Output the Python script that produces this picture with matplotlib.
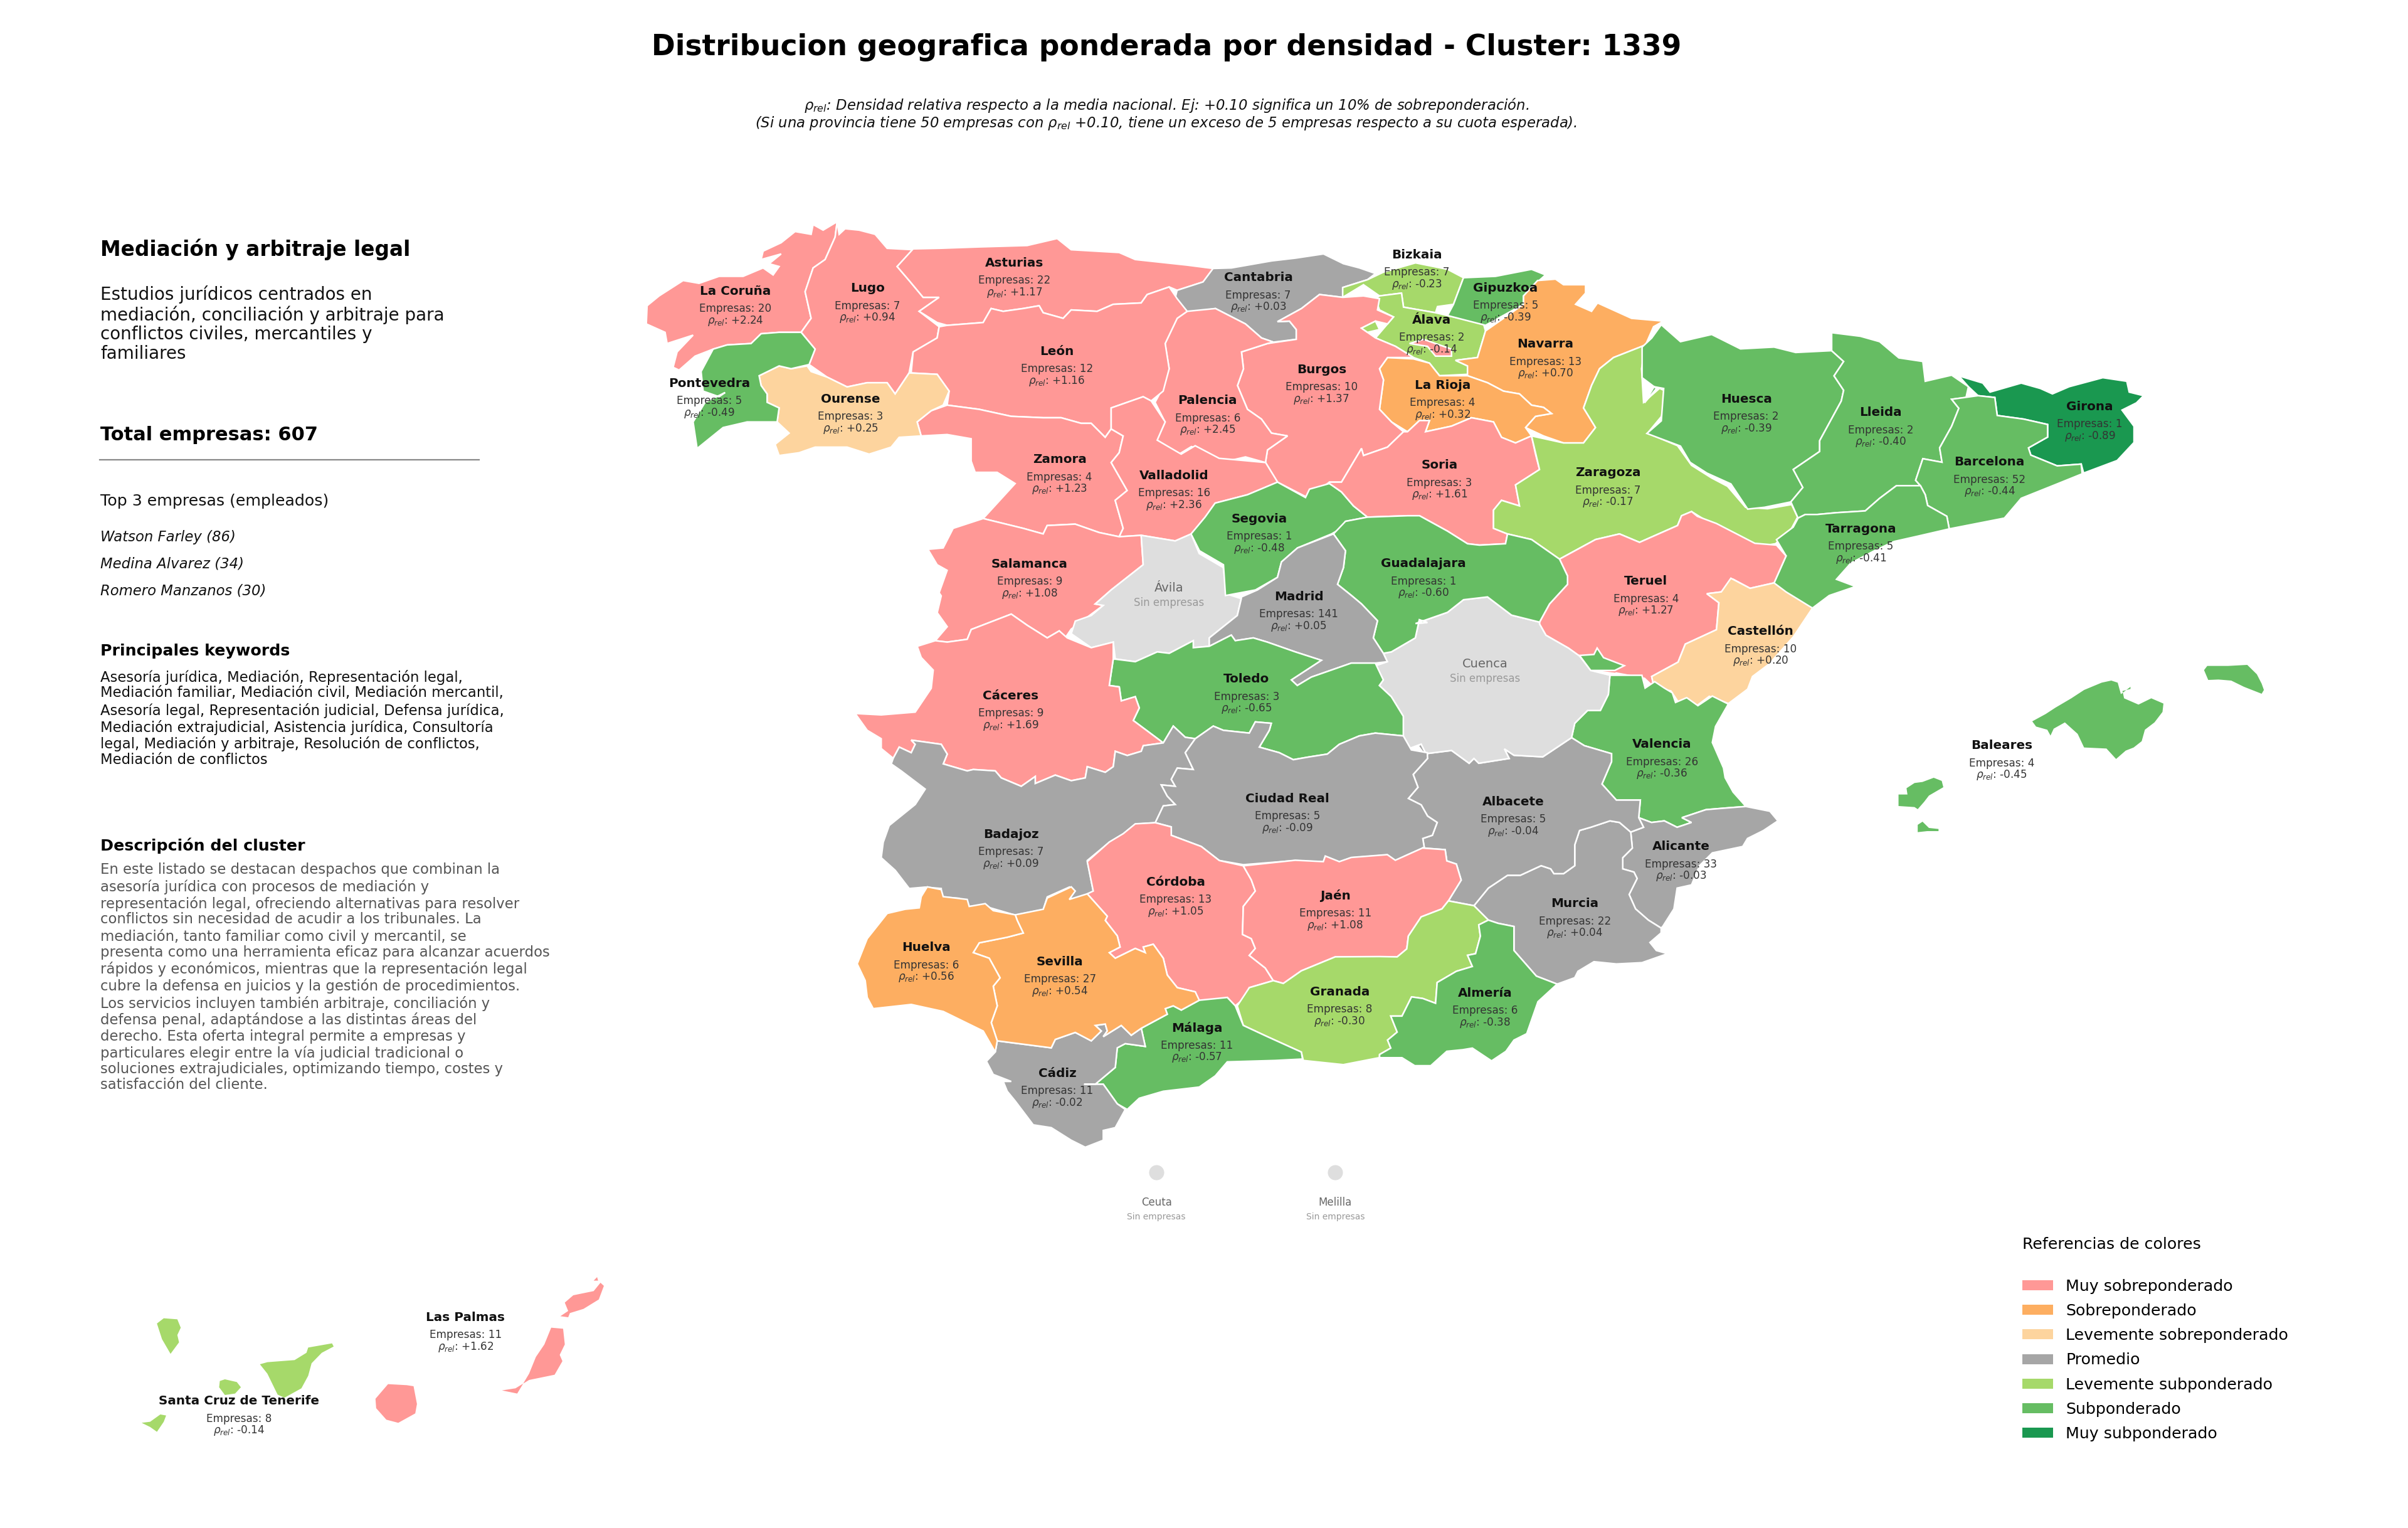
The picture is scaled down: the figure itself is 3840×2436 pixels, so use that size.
import matplotlib
matplotlib.use("Agg")
import matplotlib.pyplot as plt
from matplotlib.patches import Patch

# map sheets the outlines were digitised on: x0, y0, x scale, y scale (to image pixels)
SHEETS = {
    "A": (1000, 320, 0.638, 0.4464),
    "B": (1900, 320, 0.638, 0.4464),
    "C": (2500, 450, 0.7653, 0.574),
    "D": (1300, 950, 0.638, 0.4464),
    "E": (1300, 1300, 0.638, 0.4464),
    "F": (2200, 1000, 0.5102, 0.5102),
    "G": (150, 2000, 0.542, 0.3333),
    "H": (2900, 1000, 0.5102, 0.3333),
}

provinces = ["La Coruña", "Lugo", "Asturias", "Cantabria", "Bizkaia", "Gipuzkoa", "Álava", "Navarra",
             "La Rioja", "Burgos", "Palencia", "León", "Zamora", "Valladolid", "Salamanca", "Segovia",
             "Soria", "Zaragoza", "Huesca", "Lleida", "Girona", "Barcelona", "Tarragona", "Teruel",
             "Castellón", "Valencia", "Alicante", "Murcia", "Albacete", "Guadalajara", "Madrid", "Toledo",
             "Cáceres", "Badajoz", "Ciudad Real", "Córdoba", "Jaén", "Granada", "Almería", "Málaga",
             "Cádiz", "Sevilla", "Huelva", "Ourense", "Pontevedra", "Baleares", "Las Palmas",
             "Santa Cruz de Tenerife"]
empresas = [20, 7, 22, 7, 7, 5, 2, 13,
            4, 10, 6, 12, 4, 16, 9, 1,
            3, 7, 2, 2, 1, 52, 5, 4,
            10, 26, 33, 22, 5, 1, 141, 3,
            9, 7, 5, 13, 11, 8, 6, 11,
            11, 27, 6, 3, 5, 4, 11, 8]
rho = [2.24, 0.94, 1.17, 0.03, -0.23, -0.39, -0.14, 0.70,
       0.32, 1.37, 2.45, 1.16, 1.23, 2.36, 1.08, -0.48,
       1.61, -0.17, -0.39, -0.40, -0.89, -0.44, -0.41, 1.27,
       0.20, -0.36, -0.03, 0.04, -0.04, -0.60, 0.05, -0.65,
       1.69, 0.09, -0.09, 1.05, 1.08, -0.30, -0.38, -0.57,
       -0.02, 0.54, 0.56, 0.25, -0.49, -0.45, 1.62, -0.14]
sin_empresas = ["Ávila", "Cuenca"]

legend_labels = ["Muy sobreponderado", "Sobreponderado", "Levemente sobreponderado", "Promedio",
                 "Levemente subponderado", "Subponderado", "Muy subponderado"]
legend_colors = ["#ff9896", "#fdae61", "#fdd49e", "#a6a6a6", "#a6d96a", "#66bd63", "#1a9850"]
NO_DATA = "#dedede"

title = "Distribucion geografica ponderada por densidad - Cluster: 1339"
subtitle = [r"$\rho_{rel}$: Densidad relativa respecto a la media nacional. Ej: +0.10 significa un 10% de sobreponderación.",
            r"(Si una provincia tiene 50 empresas con $\rho_{rel}$ +0.10, tiene un exceso de 5 empresas respecto a su cuota esperada)."]
cluster_name = "Mediación y arbitraje legal"
cluster_sub = ["Estudios jurídicos centrados en", "mediación, conciliación y arbitraje para",
               "conflictos civiles, mercantiles y", "familiares"]
total_text = "Total empresas: 607"
top3 = ["Watson Farley (86)", "Medina Alvarez (34)", "Romero Manzanos (30)"]
keywords = ["Asesoría jurídica, Mediación, Representación legal,",
            "Mediación familiar, Mediación civil, Mediación mercantil,",
            "Asesoría legal, Representación judicial, Defensa jurídica,",
            "Mediación extrajudicial, Asistencia jurídica, Consultoría",
            "legal, Mediación y arbitraje, Resolución de conflictos,",
            "Mediación de conflictos"]
descripcion = ["En este listado se destacan despachos que combinan la",
               "asesoría jurídica con procesos de mediación y",
               "representación legal, ofreciendo alternativas para resolver",
               "conflictos sin necesidad de acudir a los tribunales. La",
               "mediación, tanto familiar como civil y mercantil, se",
               "presenta como una herramienta eficaz para alcanzar acuerdos",
               "rápidos y económicos, mientras que la representación legal",
               "cubre la defensa en juicios y la gestión de procedimientos.",
               "Los servicios incluyen también arbitraje, conciliación y",
               "defensa penal, adaptándose a las distintas áreas del",
               "derecho. Esta oferta integral permite a empresas y",
               "particulares elegir entre la vía judicial tradicional o",
               "soluciones extrajudiciales, optimizando tiempo, costes y",
               "satisfacción del cliente."]

# province outlines, as (sheet, points) runs joined into one ring
RINGS = [
    ("La Coruña", [("A", [(525,75),(490,105),(465,85),(460,120),(420,110),(385,150),(340,180),(335,210),(385,190),(355,225),(380,235),(365,265),(340,240),(290,270),(230,270),(180,295),(140,285),(80,340),(50,375),(48,440),(95,470),(100,510),(165,480),(125,540),(115,595),(130,605),(170,555),(215,530),(250,515),(310,510),(335,475),(380,470),(435,470),(460,420),(445,325),(465,240),(495,210),(520,130)])]),
    ("Lugo", [("A", [(525,75),(520,130),(495,210),(465,240),(445,325),(460,420),(435,470),(470,530),(455,585),(500,630),(550,665),(600,650),(650,650),(670,690),(705,615),(715,540),(775,490),(780,450),(730,395),(780,345),(740,345),(705,285),(675,235),(715,175),(650,170),(620,120),(580,105),(545,100),(530,120)])]),
    ("Asturias", [("A", [(715,172),(780,170),(880,165),(1000,160),(1075,135),(1110,175),(1230,185),(1270,210),(1400,230),(1465,242),(1440,290),(1375,320),(1355,308),(1300,335),(1285,365),(1215,370),(1175,395),(1110,390),(1090,420),(1040,400),(1030,375),(990,385),(940,395),(910,385),(890,435),(800,445),(775,435),(730,395),(780,345),(740,345),(705,285),(675,235)])]),
    ("Cantabria", [("B", [(54,242),(100,240),(200,215),(260,205),(330,190),(380,225),(420,240),(460,260),(440,282),(378,310),(378,345),(320,335),(275,385),(215,432),(245,430),(262,460),(262,495),(205,505),(175,490),(135,440),(60,385),(15,395),(-11,395),(-41,350),(-36,320),(29,290)])]),
    ("Bizkaia", [("B", [(378,310),(440,282),(480,255),(560,222),(640,245),(680,275),(655,370),(615,378),(610,400),(530,380),(525,330),(470,340),(430,300),(378,345)])]),
    ("Álava", [("B", [(470,340),(525,330),(530,380),(610,400),(640,410),(730,440),(735,465),(715,560),(660,570),(690,590),(690,620),(620,625),(595,580),(555,560),(510,520),(460,490),(490,440),(505,415),(470,390),(460,350)])]),
    ("Gipuzkoa", [("B", [(680,275),(760,270),(850,245),(885,265),(865,290),(830,340),(830,370),(735,445),(640,410),(655,370)])]),
    ("Navarra", [("B", [(865,285),(910,280),(930,300),(985,300),(985,330),(960,370),(1000,395),(1015,365),(1100,420),(1180,430),(1155,450),(1135,515),(1055,560),(1020,600),(1000,660),(980,740),(1010,810),(980,865),(930,865),(880,840),(835,810),(860,770),(900,760),(880,738),(850,730),(820,690),(780,680),(740,650),(690,625),(690,590),(660,570),(715,560),(735,465),(830,370),(830,340)])]),
    ("La Rioja", [("B", [(490,560),(555,565),(595,580),(620,625),(690,625),(740,650),(780,680),(820,690),(850,730),(880,738),(900,760),(860,770),(835,810),(850,840),(810,865),(775,845),(755,790),(700,775),(650,805),(585,825),(595,785),(570,785),(540,825),(500,790),(470,745),(480,640),(470,600)])]),
    ("Burgos", [("B", [(320,335),(378,345),(430,340),(470,350),(465,390),(505,415),(490,440),(460,430),(425,455),(440,470),(460,490),(510,520),(555,560),(490,560),(470,600),(480,640),(470,745),(500,790),(530,825),(490,880),(430,910),(425,885),(375,1005),(345,1005),(290,1060),(215,1005),(185,935),(190,890),(240,840),(200,830),(175,780),(140,745),(115,660),(130,600),(125,540),(190,510),(262,495),(262,460),(245,430),(215,432),(275,385)])]),
    ("Palencia", [("B", [(60,385),(135,440),(175,490),(205,505),(190,510),(125,540),(130,600),(115,660),(140,745),(175,780),(200,830),(240,840),(190,890),(185,935),(135,915),(75,935),(40,900),(0,878),(-31,905),(-86,855),(-66,790),(-91,720),(-76,680),(-56,600),(-66,510),(-36,420),(-11,395)])]),
    ("León", [("A", [(800,445),(890,435),(910,385),(940,395),(990,385),(1030,375),(1040,400),(1090,420),(1110,390),(1175,395),(1215,370),(1285,365),(1300,335),(1355,308),(1375,350),(1400,395),(1375,420),(1345,510),(1355,600),(1340,680),(1310,715),(1290,700),(1210,740),(1210,815),(1195,845),(1160,795),(1135,795),(1085,775),(1040,775),(960,770),(880,745),(800,730),(805,680),(775,620),(710,615),(715,540),(775,490),(780,450)])]),
    ("Zamora", [("A", [(800,730),(880,745),(960,770),(1040,775),(1085,775),(1135,795),(1160,795),(1195,845),(1210,815),(1240,840),(1230,900),(1210,935),(1250,1035),(1220,1070),(1240,1170),(1230,1200),(1180,1185),(1120,1155),(1050,1160),(1040,1190),(990,1170),(890,1135),(970,1010),(925,970),(870,970),(860,930),(860,850),(800,835),(735,840),(725,790),(760,750)])]),
    ("Valladolid", [("A", [(1210,815),(1210,740),(1290,700),(1310,715),(1345,790),(1325,855),(1385,905),(1420,875),(1480,920),(1520,925),(1596,935),(1626,1005),(1551,1050),(1470,1080),(1445,1130),(1410,1190),(1370,1215),(1285,1195),(1230,1200),(1240,1170),(1220,1070),(1250,1035),(1210,935),(1230,900),(1240,840)])]),
    ("Salamanca", [("A", [(890,1135),(990,1170),(1040,1190),(1050,1160),(1120,1155),(1180,1185),(1230,1200),(1285,1195),(1290,1300),(1210,1390),(1170,1440),(1190,1445),(1110,1530)]), ("D", [(625,150),(610,125),(580,150),(530,105),(490,65),(390,120),(380,155),(330,165),(300,160),(330,110),(305,60),(315,0)]), ("A", [(780,1400),(800,1320),(775,1300),(752,1245),(790,1240),(815,1170)])]),
    ("Ávila", [("D", [(640,135),(650,90),(690,70),(720,34),(700,29)]), ("A", [(1210,1390),(1290,1300),(1285,1195),(1370,1215),(1410,1190),(1430,1260),(1490,1310),(1500,1405),(1535,1421)]), ("D", [(1055,70),(1020,110),(985,150),(985,180),(945,185),(945,160),(885,205),(855,200),(800,235),(750,225),(745,165),(690,185)])]),
    ("Segovia", [("B", [(215,1005),(285,1060),(295,1030),(345,1010),(375,1040),(405,1090),(440,1130),(385,1145),(380,1165),(350,1190),(265,1240),(225,1290),(215,1345),(160,1390),(85,1410),(80,1300),(20,1250),(-1,1190),(34,1130),(59,1080),(140,1050)])]),
    ("Soria", [("B", [(345,1005),(375,1005),(425,885),(430,910),(490,880),(530,825),(540,825),(570,785),(595,785),(585,825),(650,805),(700,775),(755,790),(775,845),(810,865),(850,840),(860,905),(870,960),(810,1015),(820,1090),(775,1070),(755,1105),(755,1170),(790,1190),(785,1225),(720,1230),(690,1225),(640,1180),(570,1125),(540,1125),(440,1130),(405,1090),(375,1040),(345,1010)])]),
    ("Zaragoza", [("B", [(1135,515),(1125,600),(1130,720),(1170,670),(1185,680),(1175,770),(1140,830),(1215,875),(1250,945),(1300,990),(1340,1020),(1385,1095),(1440,1100),(1500,1085),(1515,1130),(1500,1170),(1460,1225),(1415,1235),(1340,1190),(1250,1110),(1225,1125),(1215,1160),(1120,1220),(1070,1190),(1010,1210),(920,1280),(850,1210),(790,1190),(755,1170),(755,1105),(775,1070),(820,1090),(810,1015),(870,960),(850,840),(930,865),(980,865),(1010,810),(980,740),(1000,660),(1020,600),(1055,560)])]),
    ("Huesca", [("C", [(195,118),(235,165),(300,145),(360,185),(430,180),(475,195),(550,190),(575,220),(555,260),(575,300),(570,330),(525,440),(525,470),(470,520),(490,570),(465,610),(410,625),(375,630),(340,560),(290,530),(255,500),(235,455),(165,420),(195,385),(200,295),(180,290),(160,335),(185,295),(155,265),(155,180),(175,155)])]),
    ("Lleida", [("C", [(550,140),(610,150),(650,165),(690,210),(740,220),(745,275),(800,258),(835,290),(830,320),(800,325),(815,350),(800,400),(775,460),(780,500),(740,490),(725,550),(735,565),(685,565),(650,600),(620,635),(560,640),(520,645),(495,645),(480,655),(465,610),(490,570),(470,520),(525,470),(525,440),(570,330),(575,300),(555,260),(575,220),(550,190)])]),
    ("Girona", [("C", [(815,260),(865,280),(880,305),(945,280),(985,295),(1010,310),(1045,290),(1115,265),(1165,275),(1170,305),(1200,315),(1185,335),(1155,355),(1180,400),(1180,445),(1145,495),(1075,530),(1070,505),(1020,510),(965,480),(960,460),(1000,430),(1000,395),(950,380),(895,370),(890,320),(855,315),(835,290)])]),
    ("Barcelona", [("C", [(800,325),(855,315),(890,320),(895,370),(950,380),(1000,395),(1000,430),(960,460),(965,480),(1020,510),(1070,505),(1072,532),(1020,560),(945,600),(910,655),(795,685),(790,650),(750,620),(745,590),(735,565),(725,550),(740,490),(780,500),(775,460),(800,400),(815,350)])]),
    ("Tarragona", [("C", [(480,655),(495,645),(520,645),(560,640),(620,635),(650,600),(685,565),(735,565),(745,590),(750,620),(790,650),(795,685),(730,705),(680,720),(640,745),(590,780),(560,825),(600,845),(545,870),(510,905),(450,870),(430,835),(455,760),(435,715),(470,680)])]),
    ("Teruel", [("B", [(920,1280),(1010,1210),(1070,1190),(1120,1220),(1215,1160),(1225,1125),(1250,1110)]), ("C", [(270,650),(310,670),(390,725),(435,730),(455,760),(430,835),(380,850),(345,825),(320,860),(290,865),(315,890),(310,965),(245,1005),(230,1055),(175,1095),(180,1125),(160,1100),(100,1085)]), ("F", [(740,145),(660,135),(625,90),(590,65),(520,25),(500,-10)]), ("B", [(870,1505),(895,1440),(940,1370),(940,1340)])]),
    ("Castellón", [("C", [(340,822),(380,850),(430,835),(455,860),(510,905),(470,985),(420,1060),(385,1095),(375,1130),(335,1170),(295,1150),(270,1175),(230,1165),(215,1135),(180,1125),(175,1095),(230,1055),(245,1005),(310,965),(315,890),(290,865),(320,860)])]),
    ("Valencia", [("F", [(720,150),(820,150),(830,190),(860,170),(890,190),(915,205),(925,235),(960,220),(995,245),(1040,215),(1090,240),(1050,310),(1040,360),(1075,440),(1080,470),(1105,515),(1145,560),(1080,565),(1020,570),(975,585),(945,595),(975,610),(930,625),(890,605),(850,610),(810,595),(815,540),(740,540),(695,490),(725,420),(725,395),(640,370),(600,345),(610,300),(650,260),(690,260),(715,210)])]),
    ("Alicante", [("F", [(810,595),(850,610),(890,605),(930,625),(975,610),(945,595),(975,585),(1020,570),(1080,565),(1145,560),(1220,575),(1245,605),(1200,635),(1150,660),(1135,685),(1040,705),(1000,745),(975,805),(930,815),(920,880),(885,935),(880,940),(840,915),(800,880),(780,835),(805,785),(795,765),(760,755),(760,720),(790,690),(785,640),(825,625)])]),
    ("Murcia", [("F", [(295,870),(340,815),(400,775),(440,775),(505,745),(535,755),(545,770),(575,770),(610,745),(610,680),(625,635),(660,625),(720,605),(750,610),(785,640),(790,690),(760,720),(760,755),(795,765),(805,785),(780,835),(800,880),(840,915),(880,940),(880,955),(845,985),(865,1010),(900,1020),(820,1048),(740,1052),(670,1045),(620,1075),(610,1095),(555,1115),(490,1090),(420,1010),(420,935),(370,925),(340,915)])]),
    ("Albacete", [("F", [(120,370),(150,410),(105,460),(120,500),(90,535),(130,555),(150,590),(180,610),(165,650),(135,660),(140,690),(205,695),(210,730),(240,740),(255,790),(215,855),(295,870),(340,815),(400,775),(440,775),(505,745),(535,755),(545,770),(575,770),(610,745),(610,680),(625,635),(660,625),(720,605),(750,610),(785,640),(825,625),(810,595),(815,540),(740,540),(695,490),(725,420),(725,395),(640,370),(600,345),(510,405),(420,400),(390,380),(405,410),(310,425),(295,410),(280,425),(225,385),(145,395),(130,365)])]),
    ("Cuenca", [("B", [(560,1510),(640,1470),(680,1425),(740,1415),(800,1480),(870,1505)]), ("F", [(500,-10),(520,25),(590,65),(625,90),(660,135),(720,150),(715,210),(690,260),(650,260),(610,300),(600,345),(510,405),(420,400),(390,380),(405,410),(310,425),(295,410),(280,425),(225,385),(145,395),(130,365),(95,378)]), ("D", [(1470,500),(1470,430),(1440,360),(1410,320),(1420,300),(1400,250),(1430,235),(1420,205),(1440,200),(1500,150),(1510,85),(1530,95)])]),
    ("Guadalajara", [("B", [(355,1190),(385,1145),(440,1130),(540,1125),(570,1125),(640,1180),(690,1225),(720,1230),(785,1225),(790,1190),(850,1210),(920,1280),(940,1340),(940,1370),(895,1440),(870,1505),(800,1480),(740,1415),(680,1425),(640,1470),(560,1510)]), ("D", [(1530,95),(1510,85),(1500,150),(1440,200),(1420,205),(1395,150)]), ("B", [(465,1500),(425,1440),(400,1410),(365,1370),(380,1310),(385,1250)])]),
    ("Madrid", [("B", [(355,1190),(385,1250),(380,1310),(365,1370),(400,1410),(425,1440),(465,1500)]), ("D", [(1395,150),(1420,205),(1430,235),(1400,240),(1340,240),(1290,265),(1240,290),(1205,320),(1190,300),(1265,230),(1200,200),(1130,165),(1095,150),(1050,160),(1040,140),(985,180),(985,150),(1020,110),(1055,70),(1065,10)]), ("B", [(125,1415),(165,1390),(215,1345),(225,1290),(265,1240)])]),
    ("Toledo", [("D", [(745,225),(800,235),(855,200),(885,205),(945,160),(945,185),(985,180),(1040,140),(1050,160),(1095,150),(1130,165),(1200,200),(1265,230),(1190,300),(1205,320),(1240,290),(1290,265),(1340,240),(1400,240),(1420,300),(1410,320),(1440,360),(1470,430),(1470,500),(1400,490),(1360,500),(1310,530),(1280,565),(1235,575),(1195,585),(1160,560),(1110,540),(1135,480),(1140,455),(1100,450),(1085,490),(1020,480),(995,465),(950,510),(925,505),(895,465),(870,525),(795,445),(810,400),(800,360),(765,375),(760,325),(735,320)])]),
    ("Cáceres", [("D", [(300,160),(330,165),(380,155),(390,120),(490,65),(530,105),(580,150),(610,125),(630,150),(690,185),(745,165),(745,225),(735,320),(760,325),(765,375),(800,360),(810,400),(795,445),(870,525),(820,535),(815,555),(780,570),(750,555),(745,610),(725,630),(680,610),(675,650),(640,660),(600,640),(550,670),(550,645),(515,680),(465,650),(450,625),(395,620),(380,625),(320,600),(330,565),(315,530),(240,515),(250,530),(240,560),(210,540),(195,580),(165,545),(165,510),(130,480),(100,420),(165,425),(250,415),(290,330),(295,265),(265,220),(255,180)])]),
    ("Badajoz", [("D", [(240,515),(315,530),(330,565),(320,600),(380,625),(395,620),(450,625),(465,650),(515,680),(550,645),(550,670),(600,640),(640,660),(675,650),(680,610),(725,630),(745,610),(750,555),(780,570),(815,555),(820,535),(870,525),(895,465),(925,505),(950,510),(925,560),(945,620),(905,615),(890,655),(900,680),(865,675),(880,715),(900,745),(870,750),(850,810),(800,815),(770,850),(735,880),(680,945),(695,1055),(680,1065),(640,1085),(635,1040),(580,1075),(570,1120),(500,1140),(440,1115),(420,1105),(380,1110),(360,1080),(315,1075),(315,1045),(275,1040),(235,1045),(200,980),(165,935),(170,880),(185,820),(250,745),(275,690),(215,625),(190,600),(195,580),(210,540),(240,560),(250,530)])]),
    ("Ciudad Real", [("D", [(950,510),(995,465),(1020,480),(1085,490),(1100,450),(1140,455),(1135,480),(1110,540),(1160,560),(1195,585),(1235,575),(1280,565),(1310,530),(1360,500),(1400,490),(1470,500),(1490,550),(1530,560)]), ("F", [(150,410),(105,460),(120,500),(90,535),(130,555),(150,590),(180,610),(165,650),(135,660),(140,690)]), ("D", [(1520,900),(1480,925),(1450,945),(1430,925),(1340,935),(1310,950),(1275,930),(1270,950),(1200,945),(1070,960),(1010,945),(965,895),(890,855),(890,825),(850,810),(870,750),(900,745),(880,715),(865,675),(900,680),(890,655),(905,615),(945,620),(925,560)])]),
    ("Córdoba", [("E", [(800,30),(850,26),(890,41),(890,71),(965,111),(1010,161),(1070,180),(1090,230),(1100,270),(1070,325),(1068,425),(1090,440),(1100,475),(1085,500),(1125,545),(1145,590),(1085,615),(1075,650),(1050,680),(1030,650),(960,675),(950,630),(905,615),(880,570),(870,510),(845,460),(820,470),(825,490),(800,475),(750,510),(735,490),(762,470),(755,430),(725,375),(730,360),(680,280),(695,270),(680,165),(735,95),(770,65)])]),
    ("Jaén", [("E", [(1070,180),(1200,160),(1270,165),(1275,145),(1310,165),(1340,150),(1430,140),(1450,160),(1520,115)]), ("F", [(135,690),(205,695),(210,730),(240,740),(255,790),(215,855),(195,880),(130,905),(90,965),(85,1005),(55,1030),(0,1030)]), ("E", [(1300,505),(1215,555),(1170,600),(1145,590),(1125,545),(1085,500),(1100,475),(1090,440),(1068,425),(1070,325),(1100,270),(1090,230)])]),
    ("Granada", [("F", [(215,855),(295,870),(340,915),(310,930),(315,965),(300,1020),(275,1025),(290,1060),(240,1075),(180,1110),(175,1175),(135,1160),(100,1155),(70,1215),(35,1215),(55,1265),(25,1290),(35,1315),(0,1335)]), ("E", [(1410,865),(1320,890),(1220,875),(1215,845),(1130,790),(1070,750),(1055,680),(1085,615),(1145,590),(1170,600),(1215,555),(1300,505),(1411,504)]), ("F", [(55,1030),(85,1005),(90,965),(130,905),(195,880)])]),
    ("Almería", [("F", [(340,915),(370,925),(420,935),(420,1010),(490,1090),(555,1115),(495,1170),(460,1270),(420,1290),(395,1325),(350,1355),(290,1315),(260,1320),(210,1325),(160,1370),(110,1370),(70,1345),(0,1345),(0,1335),(35,1315),(25,1290),(55,1265),(35,1215),(70,1215),(100,1155),(135,1160),(175,1175),(180,1110),(240,1075),(290,1060),(275,1025),(300,1020),(315,965),(310,930)])]),
    ("Málaga", [("E", [(960,660),(1030,650),(1050,680),(1070,750),(1130,790),(1215,845),(1218,870),(1150,875),(1030,880),(1000,930),(960,970),(870,985),(810,1010),(780,1050),(755,1030),(720,960),(680,960),(700,960),(750,900),(755,830),(775,815),(825,825),(815,760),(880,710),(875,690),(895,680),(915,695)])]),
    ("Cádiz", [("E", [(455,805),(590,830),(600,800),(650,775),(690,805),(715,770),(700,750),(725,745),(730,770),(720,790),(765,750),(790,785),(815,760),(825,825),(775,815),(755,830),(750,900),(700,960),(672,960),(720,960),(755,1030),(775,1050),(750,1115),(720,1125),(720,1160),(675,1185),(640,1160),(590,1115),(545,1105),(500,1020),(480,985),(470,950),(490,950),(445,925),(428,878),(450,845)])]),
    ("Sevilla", [("E", [(500,355),(570,335),(580,295),(640,255),(650,270),(635,300),(680,280),(730,360),(725,375),(755,430),(762,470),(735,490),(750,510),(800,475),(825,490),(820,470),(845,460),(870,510),(880,570),(905,615),(950,630),(960,660),(915,695),(895,680),(875,690),(880,710),(815,760),(790,785),(765,750),(720,790),(730,770),(725,745),(700,750),(715,770),(690,805),(650,775),(600,800),(590,830),(455,805),(440,740),(455,680),(445,610),(462,580),(435,510),(395,490),(410,455),(480,435),(520,420),(505,375)])]),
    ("Huelva", [("E", [(280,255),(315,265),(320,290),(380,300),(385,325),(425,315),(445,340),(500,355),(505,375),(520,420),(480,435),(410,455),(395,490),(435,510),(462,580),(445,610),(455,680),(440,740),(455,805),(450,845),(420,770),(320,700),(240,675),(145,690),(130,650),(125,590),(105,530),(130,440),(180,350),(225,335),(260,330),(265,290)])]),
    ("Ourense", [("A", [(330,625),(380,590),(410,600),(450,590),(460,610),(500,630),(550,665),(600,650),(650,650),(670,690),(705,615),(775,620),(805,680),(790,730),(760,750),(725,790),(735,840),(680,845),(660,880),(605,905),(550,880),(470,880),(430,900),(380,910),(370,870),(405,830),(375,790),(380,740),(350,720),(350,690),(335,660)])]),
    ("Pontevedra", [("A", [(215,530),(250,515),(310,510),(335,475),(380,470),(435,470),(470,530),(455,585),(410,600),(380,590),(330,625),(335,660),(350,690),(350,720),(380,740),(375,790),(300,790),(240,810),(175,885),(165,790),(195,720),(245,685),(230,700),(190,680),(185,610)])]),
    # enclaves, drawn over their neighbours
    ("Burgos", [("B", [(545,510),(580,495),(650,530),(650,555),(610,555),(590,520)])]),
    ("Álava", [("B", [(425,455),(460,430),(470,460),(440,470)])]),
    ("Valencia", [("F", [(625,88),(670,85),(680,65),(700,95),(765,120),(735,135),(660,135)])]),
    # islands
    ("Baleares", [("H", [(668,450),(710,415),(740,385),(790,340),(830,300),(885,265),(915,255),(935,265),(945,320),(975,285),(975,295),(950,305),(955,340),(1000,370),(1040,340),(1078,365),(1075,405),(1050,455),(1020,490),(1010,545),(985,575),(960,590),(930,630),(900,580),(830,575),(810,510),(770,455),(735,485),(725,518),(715,490),(680,475)])]),
    ("Baleares", [("H", [(1205,205),(1215,185),(1280,185),(1340,180),(1370,225),(1385,270),(1392,300),(1385,318),(1330,285),(1290,255),(1250,250),(1218,252)])]),
    ("Baleares", [("H", [(250,800),(278,800),(275,770),(300,745),(325,740),(360,720),(385,735),(390,765),(345,805),(330,835),(310,870),(300,860),(250,855)])]),
    ("Baleares", [("H", [(310,945),(325,930),(345,960),(375,965),(375,975),(340,975),(310,980)])]),
    ("Santa Cruz de Tenerife", [("G", [(185,330),(205,305),(245,310),(255,350),(245,385),(250,420),(225,475),(200,405)])]),
    ("Santa Cruz de Tenerife", [("G", [(488,525),(510,515),(590,505),(625,470),(630,445),(700,425),(705,440),(670,470),(640,520),(630,580),(610,640),(560,685),(540,670),(510,570)])]),
    ("Santa Cruz de Tenerife", [("G", [(370,605),(385,597),(420,610),(432,635),(415,665),(385,672),(368,635)])]),
    ("Santa Cruz de Tenerife", [("G", [(140,805),(165,800),(195,765),(212,770),(205,800),(185,848),(165,825)])]),
    ("Las Palmas", [("G", [(828,690),(865,620),(920,625),(940,630),(950,715),(945,760),(895,805),(860,790),(830,735)])]),
    ("Las Palmas", [("G", [(1200,650),(1240,640),(1280,600),(1355,575),(1378,510),(1370,480),(1385,430),(1380,355),(1345,350),(1325,430),(1300,490),(1280,570),(1245,665)])]),
    ("Las Palmas", [("G", [(1372,295),(1395,270),(1385,230),(1410,195),(1470,175),(1490,135),(1500,150),(1485,215),(1440,260),(1400,280),(1395,300)])]),
    ("Las Palmas", [("G", [(1470,125),(1480,108),(1483,125)])]),
]

# centre of the "Empresas" line per province (sheet, x, y)
LABEL_AT = {
    "La Coruña": ("A", 271, 386), "Lugo": ("A", 601, 376), "Asturias": ("A", 968, 285), "Cantabria": ("B", 167, 338),
    "Bizkaia": ("B", 563, 256), "Gipuzkoa": ("B", 785, 375), "Álava": ("B", 601, 489), "Navarra": ("B", 885, 575),
    "La Rioja": ("B", 628, 722), "Burgos": ("B", 325, 666), "Palencia": ("A", 1451, 777), "León": ("A", 1074, 601),
    "Zamora": ("A", 1081, 987), "Valladolid": ("A", 1367, 1044), "Salamanca": ("A", 1006, 1360), "Segovia": ("B", 169, 1199),
    "Soria": ("B", 620, 1007), "Zaragoza": ("B", 1041, 1034), "Huesca": ("C", 372, 373), "Lleida": ("C", 652, 411),
    "Girona": ("C", 1088, 394), "Barcelona": ("C", 879, 548), "Tarragona": ("C", 611, 734), "Teruel": ("C", 163, 879),
    "Castellón": ("C", 402, 1019), "Valencia": ("F", 883, 421), "Alicante": ("F", 942, 740), "Murcia": ("F", 610, 919),
    "Albacete": ("F", 418, 600), "Guadalajara": ("B", 580, 1359), "Madrid": ("B", 268, 1477), "Toledo": ("D", 1078, 360),
    "Cáceres": ("D", 489, 419), "Badajoz": ("D", 489, 915), "Ciudad Real": ("D", 1180, 787), "Córdoba": ("D", 901, 1085),
    "Jaén": ("D", 1300, 1134), "Granada": ("D", 1311, 1477), "Almería": ("F", 329, 1198), "Málaga": ("E", 954, 822),
    "Cádiz": ("E", 605, 984), "Sevilla": ("D", 612, 1369), "Huelva": ("D", 278, 1319), "Ourense": ("A", 559, 771),
    "Pontevedra": ("A", 205, 715), "Baleares": ("H", 572, 650), "Las Palmas": ("G", 1093, 385),
    "Santa Cruz de Tenerife": ("G", 427, 785),
    "Ávila": ("A", 1355, 1435), "Cuenca": ("F", 330, 160),
}


def to_px(sheet, x, y):
    x0, y0, sx, sy = SHEETS[sheet]
    return x0 + x * sx, y0 + y * sy


def category_color(v):
    if v >= 0.75:
        return legend_colors[0]
    if v >= 0.30:
        return legend_colors[1]
    if v >= 0.10:
        return legend_colors[2]
    if v > -0.10:
        return legend_colors[3]
    if v >= -0.30:
        return legend_colors[4]
    if v >= -0.75:
        return legend_colors[5]
    return legend_colors[6]


color_of = {p: category_color(v) for p, v in zip(provinces, rho)}
for p in sin_empresas:
    color_of[p] = NO_DATA

fig = plt.figure(figsize=(19.2, 12.18), dpi=200)
ax = fig.add_axes([0, 0, 1, 1])
ax.set_xlim(0, 3840)
ax.set_ylim(2436, 0)
ax.axis("off")

for name, runs in RINGS:
    xs, ys = [], []
    for sheet, pts in runs:
        for x, y in pts:
            px, py = to_px(sheet, x, y)
            xs.append(px)
            ys.append(py)
    # islands have no visible white edge
    lw = 0.0 if name in ("Baleares", "Las Palmas", "Santa Cruz de Tenerife") else 0.9
    ax.fill(xs, ys, facecolor=color_of[name], edgecolor="white", linewidth=lw, zorder=2)

for name, n, v in zip(provinces, empresas, rho):
    sheet, lx, ly = LABEL_AT[name]
    px, py = to_px(sheet, lx, ly)
    ax.text(px, py - 28, name, ha="center", va="center", fontsize=7.2, fontweight="bold", color="#111111", zorder=5)
    ax.text(px, py, f"Empresas: {n}", ha="center", va="center", fontsize=6.1, color="#333333", zorder=5)
    ax.text(px, py + 19, r"$\rho_{rel}$: " + f"{v:+.2f}", ha="center", va="center", fontsize=6.1, color="#333333", zorder=5)

for name in sin_empresas:
    sheet, lx, ly = LABEL_AT[name]
    px, py = to_px(sheet, lx, ly)
    ax.text(px, py - 23, name, ha="center", va="center", fontsize=7, color="#666666", zorder=5)
    ax.text(px, py, "Sin empresas", ha="center", va="center", fontsize=6, color="#999999", zorder=5)

# Ceuta and Melilla have no polygon worth drawing, just a marker
for name, sx in zip(["Ceuta", "Melilla"], [853, 1300]):
    px, py = to_px("E", sx, 1275)
    ax.scatter([px], [py], s=75, color=NO_DATA, linewidths=0, zorder=3)
    ax.text(px, py + 48, name, ha="center", va="center", fontsize=6, color="#666666")
    ax.text(px, py + 71, "Sin empresas", ha="center", va="center", fontsize=5, color="#999999")

ax.text(1860, 75, title, ha="center", va="center", fontsize=16.4, fontweight="bold", color="black")
ax.text(1860, 168, subtitle[0], ha="center", va="center", fontsize=8.2, style="italic", color="#111111")
ax.text(1860, 197, subtitle[1], ha="center", va="center", fontsize=8.2, style="italic", color="#111111")

# left panel
LEFT = 160
ax.text(LEFT, 398, cluster_name, va="center", fontsize=11.8, fontweight="bold")
for y, line in zip([470, 502, 533, 564], cluster_sub):
    ax.text(LEFT, y, line, va="center", fontsize=10, color="#111111")
ax.text(LEFT, 694, total_text, va="center", fontsize=11, fontweight="bold")
ax.plot([159, 764], [733, 733], color="#888888", lw=0.8)
ax.text(LEFT, 799, "Top 3 empresas (empleados)", va="center", fontsize=9.1, color="#111111")
for y, line in zip([856, 899, 942], top3):
    ax.text(LEFT, y, line, va="center", fontsize=8.2, style="italic", color="#111111")
ax.text(LEFT, 1038, "Principales keywords", va="center", fontsize=9.1, fontweight="bold")
for y, line in zip([1080, 1105, 1133, 1160, 1186, 1212], keywords):
    ax.text(LEFT, y, line, va="center", fontsize=8.2, color="#111111")
ax.text(LEFT, 1348, "Descripción del cluster", va="center", fontsize=9.1, fontweight="bold")
for y, line in zip([1387, 1414, 1441, 1466, 1493, 1519, 1545, 1572, 1600, 1626, 1652, 1679, 1704, 1730], descripcion):
    ax.text(LEFT, y, line, va="center", fontsize=8.2, color="#555555")

handles = [Patch(facecolor=c, edgecolor="none", label=l) for c, l in zip(legend_colors, legend_labels)]
leg = ax.legend(handles=handles, title="Referencias de colores\n", title_fontsize=9.1, fontsize=9.1, frameon=False,
                loc="upper left", bbox_to_anchor=(3225, 1972), bbox_transform=ax.transData,
                borderaxespad=0, borderpad=0, alignment="left", handlelength=1.94, handleheight=0.6, labelspacing=0.6)

fig.savefig("out.png", dpi=200)
